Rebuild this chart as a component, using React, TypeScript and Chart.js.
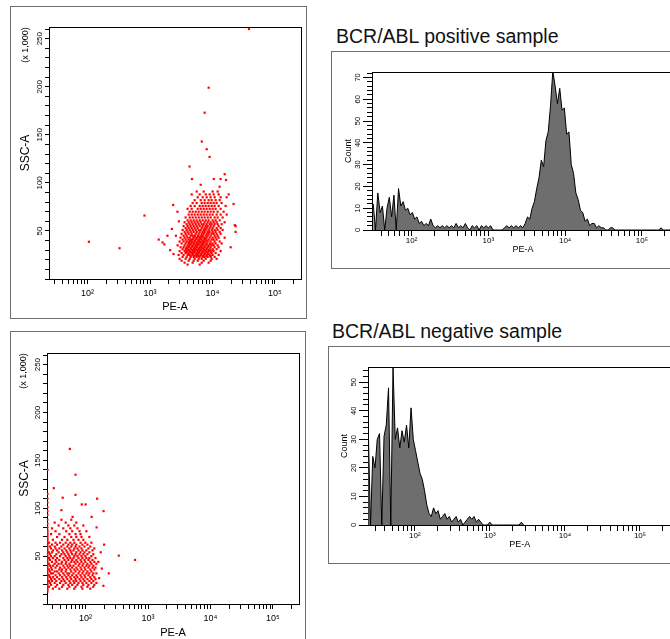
import React, { useEffect, useRef } from 'react';
import { Chart, registerables } from 'chart.js';

Chart.register(...registerables);

const FONT = "'Liberation Sans', Arial, Helvetica, sans-serif";

// ---------------- axis data ----------------
const PE_TICKS = [30, 40, 50, 60, 70, 80, 90, 100, 200, 300, 400, 500, 600, 700, 800, 900, 1000, 2000, 3000, 4000, 5000, 6000, 7000, 8000, 9000, 10000, 20000, 30000, 40000, 50000, 60000, 70000, 80000, 90000, 100000, 200000];
const PE_TICK_LABELS: Record<number, string> = { 100: '10²', 1000: '10³', 10000: '10⁴', 100000: '10⁵' };
const PE_MAX = 262144;
const SSC_MAX_K = 262.144;
const SSC_LABELS = [50, 100, 150, 200, 250];
const COUNT_LABELS_POS = [0, 10, 20, 30, 40, 50, 60, 70];
const COUNT_LABELS_NEG = [0, 10, 20, 30, 40, 50];

// ---------------- histogram data (log10 bins of PE-A) ----------------
const HIST_BIN_LOG = 0.03;
const POS_HIST_START_LOG = 1.5;
const NEG_HIST_START_LOG = 1.38;

const positiveCounts = [
  12, 0, 17, 8, 11, 0, 10, 15, 6, 16,
  0, 19, 11, 13, 9, 10, 7, 8, 5, 6,
  3, 4, 2, 3, 2, 5, 2, 1, 2, 1,
  2, 1, 2, 1, 2, 1, 3, 1, 2, 1,
  3, 1, 0, 2, 1, 2, 0, 2, 1, 2,
  1, 2, 0, 0, 0, 0, 0, 1, 2, 1,
  2, 1, 2, 1, 2, 1, 3, 6, 5, 10,
  13, 19, 24, 32, 29, 41, 45, 57, 73, 66,
  58, 65, 55, 56, 44, 45, 30, 26, 17, 14,
  9, 8, 4, 5, 2, 3, 3, 1, 2, 1,
  1, 0, 0, 1, 1, 0, 0, 0, 0, 0,
  0, 0, 0, 0, 0, 0, 0, 0, 0, 0,
  0, 0, 0, 0, 0, 1, 0, 0, 0, 0,
  0,
];

const negativeCounts = [
  34, 0, 24, 20, 30, 32, 0, 31, 35, 48,
  0, 55, 30, 34, 27, 33, 29, 35, 27, 41,
  30, 26, 22, 18, 16, 12, 7, 4, 3, 6,
  4, 5, 2, 3, 4, 2, 3, 1, 2, 3,
  1, 2, 0, 1, 2, 3, 2, 3, 1, 2,
  1, 0, 0, 0, 1, 0, 0, 0, 0, 0,
  0, 0, 0, 0, 0, 0, 0, 0, 1, 0,
];

// ---------------- dot plot data: [SSC-A (x1000), PE-A values] ----------------
const positiveRows: [number, number[]][] = [
  [15, [4000, 6250]],
  [17, [3580, 4820, 6730, 8690]],
  [19, [3210, 4160, 5000, 5800, 7240, 9360]],
  [21, [2980, 3720, 4320, 5190, 6020, 6730, 7790, 9720, 11670]],
  [23, [3330, 3860, 4480, 5000, 5590, 6250, 6970, 7500, 8390, 9360, 10840]],
  [24, [4480, 5190, 6020, 6970, 8080, 9360]],
  [25, [2870, 3450, 4000, 4320, 4820, 5390, 5800, 6480, 7240, 8080, 9030, 10070, 12560]],
  [26, [4160, 4820, 5590, 6480, 7500, 8690]],
  [27, [3210, 3720, 4160, 4650, 5000, 5590, 6020, 6730, 7500, 8390, 9720, 11250]],
  [28, [3860, 4480, 5190, 6020, 6970, 8080, 9360]],
  [29, [2980, 3580, 3860, 4320, 4820, 5190, 5800, 6250, 6970, 7790, 8690, 9360, 10460, 13520]],
  [30, [4160, 4820, 5590, 6480, 7500, 8690, 10070]],
  [31, [3330, 3720, 4000, 4480, 5000, 5390, 6020, 6480, 7240, 8080, 9030, 10070, 11670]],
  [32, [3860, 4480, 5190, 6020, 6970, 8080]],
  [33, [3090, 3450, 3860, 4160, 4650, 5190, 5590, 6250, 6730, 7500, 8390, 9360, 10840, 12560]],
  [34, [4160, 4820, 5590, 6480, 7500, 8690]],
  [35, [2770, 3580, 4000, 4320, 4820, 5390, 5800, 6480, 6970, 7790, 8690, 9720, 10460, 12110]],
  [36, [4480, 5190, 6020, 6970, 8080, 9360]],
  [37, [3210, 3720, 4160, 4480, 5000, 5590, 6020, 6730, 7240, 8080, 9030, 10070, 11250, 14030]],
  [38, [4160, 4820, 5590, 6480, 7500]],
  [39, [2980, 3450, 3860, 4320, 4650, 5190, 5800, 6250, 6970, 7500, 8390, 9360, 10840, 13040]],
  [40, [4480, 5190, 6020, 6970, 8080]],
  [41, [3330, 3720, 4160, 4480, 4820, 5390, 6020, 6480, 7240, 7790, 8690, 9720, 10460, 11670]],
  [42, [4820, 5590, 6480, 7500]],
  [43, [3090, 3580, 4000, 4320, 5000, 5590, 6250, 6730, 7500, 8080, 9030, 10070, 11250, 12560, 15690]],
  [44, [5190, 6020, 6970]],
  [45, [3450, 3860, 4480, 4820, 5190, 5800, 6480, 6970, 7790, 8390, 9360, 10840, 12110]],
  [47, [3210, 3720, 4160, 4650, 5390, 6020, 6730, 7240, 8080, 8690, 9720, 10460, 11670, 13520]],
  [49, [3580, 4000, 4480, 5000, 5590, 6250, 6970, 7500, 8390, 9030, 10070, 11250, 13040]],
  [51, [3330, 3860, 4320, 4820, 5390, 6020, 6480, 7240, 7790, 8690, 9720, 10840, 12110, 14560]],
  [53, [3720, 4160, 4650, 5190, 5800, 6730, 7500, 8080, 9030, 10070, 11670, 13520]],
  [55, [3450, 4000, 4480, 5000, 5590, 6250, 6970, 7790, 8390, 9360, 10460, 12560]],
  [57, [3860, 4320, 4820, 5390, 6020, 6730, 7240, 8080, 9030, 9720, 10840, 12110, 14030]],
  [59, [3580, 4160, 4650, 5190, 5800, 6480, 7500, 8390, 9360, 10460, 11670, 15690]],
  [61, [4000, 4480, 5000, 5590, 6250, 6970, 7790, 8690, 10070, 11250, 13040]],
  [64, [3720, 4320, 4820, 5390, 6020, 6730, 7500, 8390, 9360, 10840, 12110, 14560]],
  [67, [4160, 4650, 5190, 5800, 6480, 7240, 8080, 9030, 10070, 11670, 13520, 16900]],
  [70, [4320, 4820, 5390, 6020, 6730, 7500, 8390, 9360, 10460, 12110, 15100]],
  [73, [4000, 4650, 5800, 6480, 7240, 8080, 9030, 10070, 11250, 13520]],
  [76, [4480, 5190, 6250, 6970, 7790, 8690, 9720, 10840, 12560, 16260]],
  [79, [4820, 5590, 6730, 7500, 8390, 9360, 10460, 11670, 14030]],
  [82, [5190, 6480, 7500, 8690, 9720, 11250, 13040]],
  [85, [5800, 6970, 8080, 9360, 10840, 13520, 16900]],
  [88, [4650, 6250, 7790, 9030, 10460, 12560]],
  [91, [5590, 7240, 10070, 12110]],
];

// [PE-A, SSC-A (x1000)]
const positiveOutliers: [number, number][] = [
  [105, 38.7], [325, 32], [815, 66], [1380, 41], [1590, 38], [1700, 36], [1900, 45], [2100, 30],
  [2240, 52], [2380, 26], [2350, 77], [2750, 70], [2600, 45], [2900, 60], [4300, 117], [4700, 104],
  [6480, 98], [6750, 143], [7500, 173], [8100, 135], [8700, 199], [9000, 127], [10500, 104], [13000, 96],
  [13500, 104], [15700, 109], [16500, 103], [18200, 88], [19600, 33], [21800, 78], [22800, 56], [23500, 49],
  [23550, 55], [38500, 260],
];

const negativeRows: [number, number[]][] = [
  [16, [30, 38, 51, 66, 89, 119]],
  [18, [26, 33, 42, 55, 69, 86, 107, 133]],
  [20, [28, 35, 44, 53, 61, 74, 92, 111, 138]],
  [22, [27, 32, 39, 48, 57, 66, 77, 89, 103, 124, 149]],
  [24, [26, 29, 34, 41, 46, 55, 64, 71, 83, 96, 115, 133]],
  [26, [28, 32, 38, 44, 51, 59, 69, 80, 92, 107, 124, 144]],
  [28, [27, 30, 35, 42, 49, 57, 66, 74, 86, 99, 119, 138]],
  [30, [26, 33, 39, 46, 53, 61, 71, 83, 96, 111, 129]],
  [32, [28, 30, 37, 44, 51, 55, 64, 77, 89, 103, 115, 133, 149]],
  [34, [27, 32, 35, 41, 48, 59, 69, 80, 92, 107, 124]],
  [36, [26, 29, 38, 42, 49, 57, 66, 74, 86, 99, 119, 138]],
  [38, [28, 33, 39, 46, 53, 61, 71, 83, 96, 111, 129, 144]],
  [40, [27, 30, 35, 44, 51, 57, 64, 77, 89, 103, 115, 133]],
  [42, [26, 32, 37, 41, 48, 55, 69, 80, 92, 107, 124, 149]],
  [44, [29, 34, 42, 49, 59, 66, 74, 86, 99, 119, 138]],
  [46, [27, 33, 38, 46, 53, 61, 71, 83, 96, 111, 129]],
  [48, [26, 30, 35, 44, 51, 57, 64, 77, 89, 103, 115, 144]],
  [50, [28, 32, 39, 48, 55, 66, 74, 86, 99, 124]],
  [52, [27, 34, 41, 46, 53, 61, 69, 80, 92, 107, 133]],
  [54, [26, 29, 37, 44, 51, 59, 71, 83, 96, 115]],
  [56, [30, 35, 42, 49, 57, 64, 77, 89, 103, 129]],
  [58, [28, 33, 38, 46, 55, 66, 74, 86, 111, 138]],
  [60, [27, 32, 41, 51, 59, 69, 80, 96, 119]],
  [62, [29, 35, 44, 53, 61, 71, 89, 107]],
  [64, [26, 33, 39, 48, 57, 66, 83, 99, 124]],
  [67, [30, 42, 51, 64, 77, 92]],
  [70, [35, 46, 59, 71, 86, 115]],
  [73, [28, 38, 55, 69, 83]],
  [76, [33, 49, 61, 80, 103]],
  [79, [29, 44, 57, 74]],
  [82, [37, 53, 66, 92]],
  [85, [32, 48, 71]],
  [88, [41, 59]],
];

const negativeOutliers: [number, number][] = [
  [56, 162], [69, 135], [31, 121], [43, 111], [69, 114], [87, 104], [153, 110], [41, 98],
  [194, 97], [125, 91], [62, 91], [198, 62], [340, 50.5], [620, 46], [235, 32], [193, 19],
  [182, 37], [165, 27], [175, 54], [100, 104], [150, 80], [160, 44],
];

// events piled on the low edge of the PE-A axis
const NEG_EDGE_PE = 24.5;
const negativeEdgeSSC = [
  13, 15, 17, 19, 21, 23, 25, 27, 29, 31, 33, 35, 37, 39, 41, 43, 45, 47, 49, 51, 53, 55,
  57, 59, 61, 63, 65, 67, 69, 71, 73, 75, 77, 80, 84, 88, 93, 97, 101, 106, 110, 115, 140,
];

// ---------------- helpers ----------------
const rowsToPoints = (rows: [number, number[]][]) =>
  rows.flatMap(([ssc, pes]) => pes.map((pe) => ({ x: pe, y: ssc })));
const pairsToPoints = (pairs: [number, number][]) => pairs.map(([pe, ssc]) => ({ x: pe, y: ssc }));
const histPoints = (counts: number[], startLog: number) =>
  counts.map((c, i) => ({ x: Math.pow(10, startLog + i * HIST_BIN_LOG), y: c }));

type Decor = {
  labels: number[];
  labelSize: number;
  labelGap: number;
  majorTick?: number;
  unitText?: string;
  unitSize?: number;
  unitDx?: number;
  unitDy?: number;
};

function makeDecor(d: Decor) {
  return {
    id: 'axisDecor',
    beforeDatasetsDraw(chart: any) {
      const { ctx, chartArea: a } = chart;
      ctx.save();
      ctx.strokeStyle = '#000';
      ctx.lineWidth = 1;
      ctx.strokeRect(a.left + 0.5, a.top + 0.5, a.right - a.left, a.bottom - a.top);
      ctx.restore();
    },
    afterDraw(chart: any) {
      const { ctx, chartArea: a } = chart;
      const ys = chart.scales.y;
      ctx.save();
      ctx.fillStyle = '#000';
      ctx.strokeStyle = '#000';
      ctx.lineWidth = 1;
      ctx.textAlign = 'center';
      ctx.textBaseline = 'middle';
      ctx.font = `${d.labelSize}px ${FONT}`;
      for (const v of d.labels) {
        const py = ys.getPixelForValue(v);
        if (d.majorTick) {
          const yy = Math.round(py - 0.5) + 0.5;
          ctx.beginPath();
          ctx.moveTo(a.left - d.majorTick, yy);
          ctx.lineTo(a.left, yy);
          ctx.stroke();
        }
        ctx.save();
        ctx.translate(a.left - d.labelGap, py);
        ctx.rotate(-Math.PI / 2);
        ctx.fillText(String(v), 0, 0);
        ctx.restore();
      }
      if (d.unitText) {
        ctx.font = `${d.unitSize}px ${FONT}`;
        ctx.save();
        ctx.translate(a.left - (d.unitDx || 0), a.top + (d.unitDy || 0));
        ctx.rotate(-Math.PI / 2);
        ctx.fillText(d.unitText, 0, 0);
        ctx.restore();
      }
      ctx.restore();
    },
  };
}

function peAxis(o: { min: number; height: number; labelSize: number; tickLen: number; labelPad: number; titleSize: number; titlePadBottom: number }) {
  return {
    type: 'logarithmic',
    bounds: 'data',
    min: o.min,
    max: PE_MAX,
    afterBuildTicks: (s: any) => {
      s.ticks = PE_TICKS.filter((v) => v >= s.min && v <= s.max).map((v) => ({ value: v }));
    },
    afterFit: (s: any) => {
      s.height = o.height;
    },
    ticks: {
      autoSkip: false,
      maxRotation: 0,
      minRotation: 0,
      color: '#000',
      padding: o.labelPad,
      font: { size: o.labelSize, family: FONT },
      callback: (v: number) => PE_TICK_LABELS[v] ?? '',
    },
    grid: { drawOnChartArea: false, drawTicks: true, tickLength: o.tickLen, tickColor: '#000', tickWidth: 1 },
    border: { display: false },
    title: {
      display: true,
      text: 'PE-A',
      color: '#000',
      font: { size: o.titleSize, family: FONT },
      padding: { top: 0, bottom: o.titlePadBottom },
    },
  };
}

function valueAxis(o: { max: number; step: number; width: number; tickLen: number; title: string; titleSize: number; titlePadTop: number }) {
  return {
    type: 'linear',
    bounds: 'data',
    min: 0,
    max: o.max,
    afterFit: (s: any) => {
      s.width = o.width;
    },
    ticks: { display: false, stepSize: o.step, includeBounds: false },
    grid: { drawOnChartArea: false, drawTicks: true, tickLength: o.tickLen, tickColor: '#000', tickWidth: 1 },
    border: { display: false },
    title: {
      display: true,
      text: o.title,
      color: '#000',
      font: { size: o.titleSize, family: FONT },
      padding: { top: o.titlePadTop, bottom: 0 },
    },
  };
}

function scatterConfig(points: any[], o: any) {
  return {
    type: 'scatter',
    data: {
      datasets: [
        {
          data: points,
          pointStyle: 'rect',
          pointRadius: 1.55,
          pointHoverRadius: 1.55,
          pointBackgroundColor: '#ff0000',
          pointBorderWidth: 0,
          borderWidth: 0,
        },
      ],
    },
    options: {
      animation: false,
      responsive: false,
      devicePixelRatio: 1,
      events: [],
      layout: { autoPadding: false, padding: { left: 0, top: o.padTop, right: o.padRight, bottom: 0 } },
      plugins: { legend: { display: false }, tooltip: { enabled: false } },
      scales: {
        x: peAxis({ min: 24.1, height: o.xHeight, labelSize: 9, tickLen: 5, labelPad: o.xLabelPad, titleSize: 11, titlePadBottom: o.xTitlePad }),
        y: valueAxis({ max: SSC_MAX_K, step: 10, width: o.yWidth, tickLen: 4, title: 'SSC-A', titleSize: 12, titlePadTop: o.yTitlePad }),
      },
    },
    plugins: [
      makeDecor({ labels: SSC_LABELS, labelSize: 8, labelGap: 9, unitText: '(x 1,000)', unitSize: 9, unitDx: 23, unitDy: 18 }),
    ],
  };
}

function histConfig(points: any[], o: any) {
  return {
    type: 'line',
    data: {
      datasets: [
        {
          data: points,
          fill: 'origin',
          backgroundColor: '#6e6e6e',
          borderColor: '#000',
          borderWidth: 1,
          pointRadius: 0,
          tension: 0,
        },
      ],
    },
    options: {
      animation: false,
      responsive: false,
      devicePixelRatio: 1,
      events: [],
      layout: { autoPadding: false, padding: { left: 0, top: o.padTop, right: o.padRight, bottom: 0 } },
      plugins: { legend: { display: false }, tooltip: { enabled: false } },
      scales: {
        x: peAxis({ min: o.xMin, height: o.xHeight, labelSize: 8, tickLen: 6, labelPad: 0, titleSize: 9, titlePadBottom: 13.6 }),
        y: valueAxis({ max: o.yMax, step: 2, width: o.yWidth, tickLen: 5, title: 'Count', titleSize: 9, titlePadTop: o.yTitlePad }),
      },
    },
    plugins: [makeDecor({ labels: o.labels, labelSize: 7.5, labelGap: 14, majorTick: 9 })],
  };
}

function ChartCanvas({ left, top, width, height, make }: { left: number; top: number; width: number; height: number; make: () => any }) {
  const ref = useRef<HTMLCanvasElement>(null);
  useEffect(() => {
    const chart = new Chart(ref.current as HTMLCanvasElement, make());
    return () => chart.destroy();
  }, []);
  return (
    <canvas
      ref={ref}
      width={width}
      height={height}
      style={{ position: 'absolute', left, top, width, height }}
    />
  );
}

const boxStyle = (left: number, top: number, width: number, height: number): React.CSSProperties => ({
  position: 'absolute',
  left,
  top,
  width,
  height,
  boxSizing: 'border-box',
  border: '1px solid #6e6e6e',
});

const titleStyle = (left: number, top: number): React.CSSProperties => ({
  position: 'absolute',
  left,
  top,
  fontFamily: FONT,
  fontSize: 19.5,
  lineHeight: '19.5px',
  color: '#111',
  whiteSpace: 'nowrap',
});

export default function App() {
  const positivePoints = [...rowsToPoints(positiveRows), ...pairsToPoints(positiveOutliers)];
  const negativePoints = [
    ...rowsToPoints(negativeRows),
    ...pairsToPoints(negativeOutliers),
    ...negativeEdgeSSC.map((ssc) => ({ x: NEG_EDGE_PE, y: ssc })),
  ];
  return (
    <div
      style={{
        position: 'absolute',
        left: 0,
        top: 0,
        width: 670,
        height: 639,
        overflow: 'hidden',
        background: '#fff',
      }}
    >
      <div style={boxStyle(10, 6, 297, 313)} />
      <div style={boxStyle(10, 331, 296, 330)} />
      <div style={boxStyle(331, 51, 400, 218)} />
      <div style={boxStyle(328, 346, 400, 218)} />
      <div style={titleStyle(336, 26.8)}>BCR/ABL positive sample</div>
      <div style={titleStyle(332, 321.8)}>BCR/ABL negative sample</div>

      <ChartCanvas
        left={10}
        top={7}
        width={297}
        height={311}
        make={() =>
          scatterConfig(positivePoints, { padTop: 20, padRight: 6, yWidth: 39, xHeight: 39, xLabelPad: 4.6, xTitlePad: 4.4, yTitlePad: 8.8 })
        }
      />
      <ChartCanvas
        left={10}
        top={331}
        width={296}
        height={311}
        make={() =>
          scatterConfig(negativePoints, { padTop: 22, padRight: 7, yWidth: 37, xHeight: 38, xLabelPad: 4.6, xTitlePad: 2.1, yTitlePad: 7 })
        }
      />
      <ChartCanvas
        left={331}
        top={51}
        width={350}
        height={218}
        make={() =>
          histConfig(histPoints(positiveCounts, POS_HIST_START_LOG), {
            xMin: 30.5, yMax: 72.5, padTop: 21, padRight: 7, yWidth: 41, xHeight: 39, yTitlePad: 12.6, labels: COUNT_LABELS_POS,
          })
        }
      />
      <ChartCanvas
        left={328}
        top={346}
        width={350}
        height={218}
        make={() =>
          histConfig(histPoints(negativeCounts, NEG_HIST_START_LOG), {
            xMin: 23.8, yMax: 55.3, padTop: 21, padRight: 6.6, yWidth: 40, xHeight: 39, yTitlePad: 11.6, labels: COUNT_LABELS_NEG,
          })
        }
      />
    </div>
  );
}
